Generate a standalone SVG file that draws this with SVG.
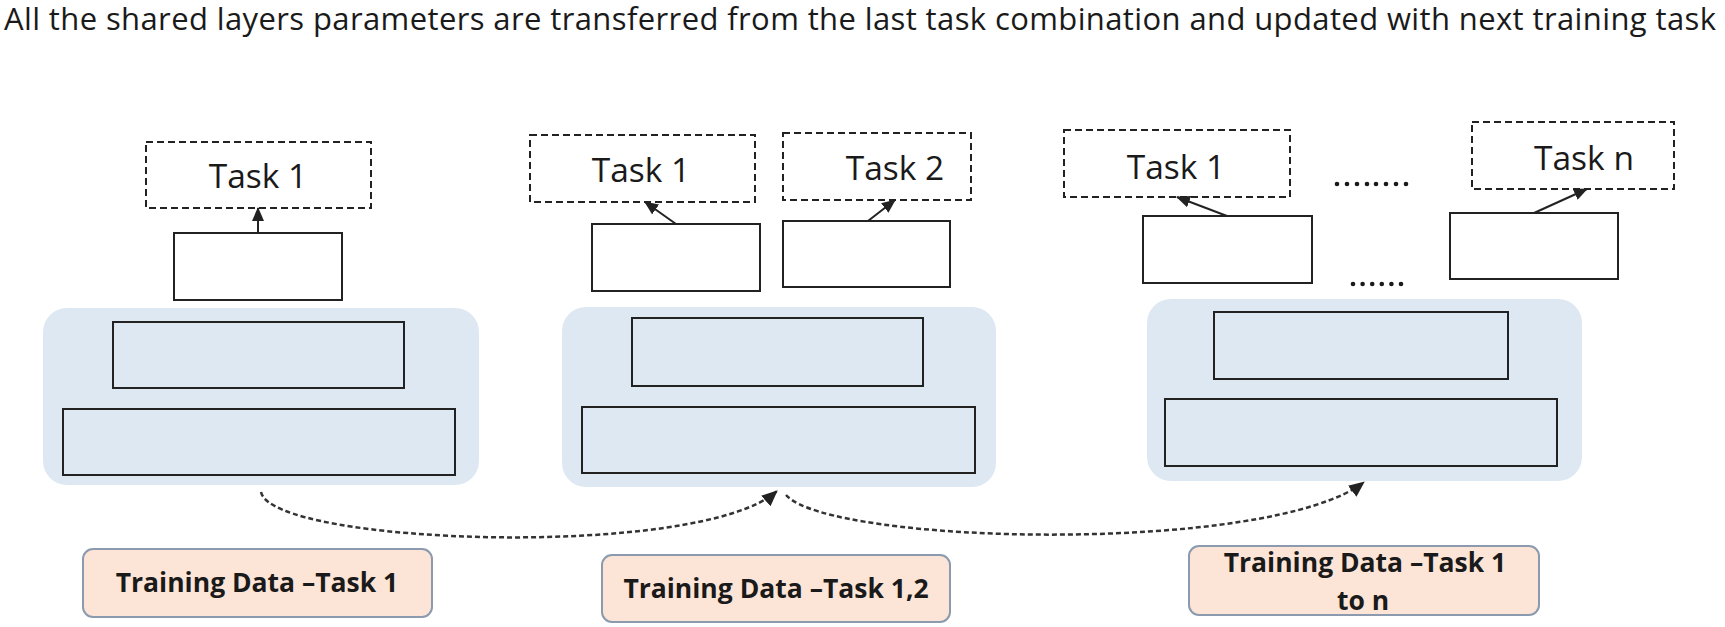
<svg xmlns="http://www.w3.org/2000/svg" width="1725" height="627" viewBox="0 0 1725 627">
  <style>
    .title { font-family: "Open Sans", "Liberation Sans", sans-serif; font-size: 31px; fill: #1a1a1a; }
    .task { font-family: "Open Sans", "Liberation Sans", sans-serif; font-size: 33.5px; fill: #1a1a1a; }
    .dash { fill: #ffffff; stroke: #222222; stroke-width: 2; stroke-dasharray: 7 4; }
    .head { fill: #ffffff; stroke: #222222; stroke-width: 2; }
    .shared { fill: #dee8f2; stroke: none; }
    .layer { fill: #dee8f2; stroke: #222222; stroke-width: 2; }
    .data { fill: #fce5d7; stroke: #8b9aae; stroke-width: 2; }
    .dlabel { font-family: "Open Sans", "Liberation Sans", sans-serif; font-size: 26.5px; font-weight: 700; fill: #1a1a1a; }
    .dots { fill: #1a1a1a; }
    .arr { fill: none; stroke: #222222; stroke-width: 2; }
    .transfer { fill: none; stroke: #333333; stroke-width: 2.5; stroke-dasharray: 5 3; }
  </style>
  <defs>
    <marker id="ah" markerUnits="userSpaceOnUse" markerWidth="14" markerHeight="12" refX="13" refY="6" orient="auto">
      <path d="M0,0 L14,6 L0,12 Z" fill="#222222"/>
    </marker>
    <marker id="ah2" markerUnits="userSpaceOnUse" markerWidth="16" markerHeight="14" refX="15" refY="7" orient="auto">
      <path d="M0,0 L16,7 L0,14 Z" fill="#222222"/>
    </marker>
  </defs>

  <text class="title" x="4" y="30" textLength="1712">All the shared layers parameters are transferred from the last task combination and updated with next training task</text>

  <!-- Group 1 -->
  <g id="shared-1">
    <rect class="shared" x="43" y="308" width="436" height="177" rx="24"/>
    <rect class="layer" x="113" y="322" width="291" height="66"/>
    <rect class="layer" x="63" y="409" width="392" height="66"/>
  </g>
  <g id="head-1-1"><rect class="head" x="174" y="233" width="168" height="67"/></g>
  <g id="task-1-1">
    <rect class="dash" x="146" y="142" width="225" height="66"/>
    <text class="task" x="258" y="188" text-anchor="middle">Task 1</text>
  </g>

  <!-- Group 2 -->
  <g id="shared-2">
    <rect class="shared" x="562" y="307" width="434" height="180" rx="24"/>
    <rect class="layer" x="632" y="318" width="291" height="68"/>
    <rect class="layer" x="582" y="407" width="393" height="66"/>
  </g>
  <g id="head-2-1"><rect class="head" x="592" y="224" width="168" height="67"/></g>
  <g id="head-2-2"><rect class="head" x="783" y="221" width="167" height="66"/></g>
  <g id="task-2-1">
    <rect class="dash" x="530" y="135" width="225" height="67"/>
    <text class="task" x="641" y="182" text-anchor="middle">Task 1</text>
  </g>
  <g id="task-2-2">
    <rect class="dash" x="783" y="133" width="188" height="67"/>
    <text class="task" x="895" y="180" text-anchor="middle">Task 2</text>
  </g>

  <!-- Group 3 -->
  <g id="shared-3">
    <rect class="shared" x="1147" y="299" width="435" height="182" rx="24"/>
    <rect class="layer" x="1214" y="312" width="294" height="67"/>
    <rect class="layer" x="1165" y="399" width="392" height="67"/>
  </g>
  <g id="head-3-1"><rect class="head" x="1143" y="216" width="169" height="67"/></g>
  <g id="head-3-n"><rect class="head" x="1450" y="213" width="168" height="66"/></g>
  <g id="task-3-1">
    <rect class="dash" x="1064" y="130" width="226" height="67"/>
    <text class="task" x="1176" y="179" text-anchor="middle">Task 1</text>
  </g>
  <g id="task-3-n">
    <rect class="dash" x="1472" y="122" width="202" height="67"/>
    <text class="task" x="1584" y="170" text-anchor="middle">Task n</text>
  </g>
  <g id="ellipsis-tasks" class="dots">
    <circle cx="1337" cy="184" r="2.3"/><circle cx="1347" cy="184" r="2.3"/><circle cx="1357" cy="184" r="2.3"/><circle cx="1367" cy="184" r="2.3"/>
    <circle cx="1376" cy="184" r="2.3"/><circle cx="1386" cy="184" r="2.3"/><circle cx="1396" cy="184" r="2.3"/><circle cx="1406" cy="184" r="2.3"/>
  </g>
  <g id="ellipsis-heads" class="dots">
    <circle cx="1353" cy="284" r="2.3"/><circle cx="1362.6" cy="284" r="2.3"/><circle cx="1372.2" cy="284" r="2.3"/>
    <circle cx="1381.8" cy="284" r="2.3"/><circle cx="1391.4" cy="284" r="2.3"/><circle cx="1401" cy="284" r="2.3"/>
  </g>

  <!-- Training data -->
  <g id="data-1">
    <rect class="data" x="83" y="549" width="349" height="68" rx="10"/>
    <text class="dlabel" x="257" y="592" text-anchor="middle">Training Data –Task 1</text>
  </g>
  <g id="data-2">
    <rect class="data" x="602" y="555" width="348" height="67" rx="10"/>
    <text class="dlabel" x="776" y="598" text-anchor="middle">Training Data –Task 1,2</text>
  </g>
  <g id="data-3">
    <rect class="data" x="1189" y="546" width="350" height="69" rx="10"/>
    <text class="dlabel" x="1365" y="572" text-anchor="middle">Training Data –Task 1</text>
    <text class="dlabel" x="1363" y="610" text-anchor="middle">to n</text>
  </g>

  <!-- Connectors -->
  <g id="connectors">
    <line class="arr" x1="258" y1="233" x2="258" y2="208" marker-end="url(#ah)"/>
    <line class="arr" x1="676" y1="224" x2="645" y2="202" marker-end="url(#ah)"/>
    <line class="arr" x1="868" y1="221" x2="895" y2="200" marker-end="url(#ah)"/>
    <line class="arr" x1="1227" y1="216" x2="1177" y2="197" marker-end="url(#ah)"/>
    <line class="arr" x1="1534" y1="213" x2="1587" y2="189" marker-end="url(#ah)"/>
    <path class="transfer" d="M261,492 C272,545 700,560 777,491" marker-end="url(#ah2)"/>
    <path class="transfer" d="M786,495 C830,545 1270,555 1364,482" marker-end="url(#ah2)"/>
  </g>
</svg>
